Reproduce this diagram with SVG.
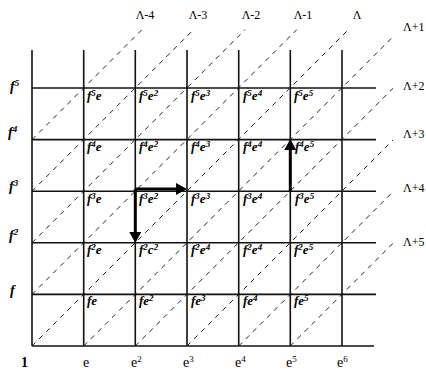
<svg xmlns="http://www.w3.org/2000/svg" width="426" height="371" viewBox="0 0 426 371">
<style>
.grid{stroke:#111;stroke-width:1.6;fill:none}
.diag{stroke:#222;stroke-width:1;stroke-dasharray:5 5;fill:none}
.arr{stroke:#000;stroke-width:3;fill:none}
text{font-family:"Liberation Serif","DejaVu Serif",serif;fill:#000}
.cl{font-size:13px;font-style:italic;font-weight:bold}
.ax{font-size:14px;font-style:italic;font-weight:bold}
.bx{font-size:14px}
.lam{font-family:"Liberation Sans","DejaVu Sans",sans-serif;font-size:12px}
.sup{font-size:9px}
</style>
<defs>
<marker id="ah" markerUnits="userSpaceOnUse" markerWidth="12" markerHeight="12" refX="2" refY="6" orient="auto">
<path d="M0,0 L11,6 L0,12 z" fill="#000"/>
</marker>
</defs>
<rect width="426" height="371" fill="#fff"/>
<g id="grid" class="grid">
<line x1="32" y1="50" x2="32" y2="346"/>
<line x1="83.7" y1="50" x2="83.7" y2="346"/>
<line x1="135.3" y1="50" x2="135.3" y2="346"/>
<line x1="187" y1="50" x2="187" y2="346"/>
<line x1="238.7" y1="50" x2="238.7" y2="346"/>
<line x1="290.3" y1="50" x2="290.3" y2="346"/>
<line x1="342" y1="50" x2="342" y2="346"/>
<line x1="32" y1="88" x2="376" y2="88"/>
<line x1="32" y1="139.6" x2="376" y2="139.6"/>
<line x1="32" y1="191.2" x2="376" y2="191.2"/>
<line x1="32" y1="242.8" x2="376" y2="242.8"/>
<line x1="32" y1="294.4" x2="376" y2="294.4"/>
<line x1="32" y1="346" x2="374" y2="346"/>
</g>
<g id="diagonals" class="diag">
<line x1="32" y1="139.6" x2="142" y2="29.6"/>
<line x1="32" y1="191.2" x2="193.6" y2="29.6"/>
<line x1="32" y1="242.8" x2="245.2" y2="29.6"/>
<line x1="32" y1="294.4" x2="296.8" y2="29.6"/>
<line x1="32" y1="346" x2="348.4" y2="29.6"/>
<line x1="83.7" y1="346" x2="393" y2="36.7"/>
<line x1="135.3" y1="346" x2="393" y2="88.3"/>
<line x1="187" y1="346" x2="393" y2="140"/>
<line x1="238.7" y1="346" x2="393" y2="191.7"/>
<line x1="290.3" y1="346" x2="393" y2="243.3"/>
</g>
<g id="connectors" class="arr">
<line x1="135.3" y1="189" x2="178" y2="189" marker-end="url(#ah)"/>
<line x1="135.3" y1="189" x2="135.3" y2="234" marker-end="url(#ah)"/>
<line x1="290.3" y1="191.2" x2="290.3" y2="148" marker-end="url(#ah)"/>
</g>
<g id="lambda-labels" class="lam">
<text x="145" y="19" text-anchor="middle">Λ-4</text>
<text x="198" y="19" text-anchor="middle">Λ-3</text>
<text x="251" y="19" text-anchor="middle">Λ-2</text>
<text x="303" y="19" text-anchor="middle">Λ-1</text>
<text x="357" y="19" text-anchor="middle">Λ</text>
<text x="403" y="31">Λ+1</text>
<text x="403" y="90">Λ+2</text>
<text x="403" y="138">Λ+3</text>
<text x="403" y="192">Λ+4</text>
<text x="403" y="246">Λ+5</text>
</g>
<g id="axis-labels">
<g class="ax">
<text x="10" y="91">f<tspan class="sup" dy="-5">5</tspan></text>
<text x="8" y="137">f<tspan class="sup" dy="-5">4</tspan></text>
<text x="9" y="191">f<tspan class="sup" dy="-5">3</tspan></text>
<text x="9" y="240">f<tspan class="sup" dy="-5">2</tspan></text>
<text x="10" y="295">f</text>
</g>
<g class="bx">
<text x="21" y="367" font-weight="bold">1</text>
<text x="83" y="367">e</text>
<text x="131" y="367">e<tspan class="sup" dy="-5">2</tspan></text>
<text x="183" y="367">e<tspan class="sup" dy="-5">3</tspan></text>
<text x="235" y="367">e<tspan class="sup" dy="-5">4</tspan></text>
<text x="286" y="367">e<tspan class="sup" dy="-5">5</tspan></text>
<text x="337" y="367">e<tspan class="sup" dy="-5">6</tspan></text>
</g>
</g>
<g class="cl">
<g id="n-f5e"><text x="87" y="100">f<tspan class="sup" dy="-4">5</tspan><tspan dy="4">e</tspan></text></g>
<g id="n-f5e2"><text x="139" y="100">f<tspan class="sup" dy="-4">5</tspan><tspan dy="4">e</tspan><tspan class="sup" dy="-4">2</tspan></text></g>
<g id="n-f5e3"><text x="191" y="100">f<tspan class="sup" dy="-4">5</tspan><tspan dy="4">e</tspan><tspan class="sup" dy="-4">3</tspan></text></g>
<g id="n-f5e4"><text x="243" y="100">f<tspan class="sup" dy="-4">5</tspan><tspan dy="4">e</tspan><tspan class="sup" dy="-4">4</tspan></text></g>
<g id="n-f5e5"><text x="294" y="100">f<tspan class="sup" dy="-4">5</tspan><tspan dy="4">e</tspan><tspan class="sup" dy="-4">5</tspan></text></g>

<g id="n-f4e"><text x="87" y="151">f<tspan class="sup" dy="-4">4</tspan><tspan dy="4">e</tspan></text></g>
<g id="n-f4e2"><text x="139" y="151">f<tspan class="sup" dy="-4">4</tspan><tspan dy="4">e</tspan><tspan class="sup" dy="-4">2</tspan></text></g>
<g id="n-f4e3"><text x="191" y="151">f<tspan class="sup" dy="-4">4</tspan><tspan dy="4">e</tspan><tspan class="sup" dy="-4">3</tspan></text></g>
<g id="n-f4e4"><text x="243" y="151">f<tspan class="sup" dy="-4">4</tspan><tspan dy="4">e</tspan><tspan class="sup" dy="-4">4</tspan></text></g>
<g id="n-f4e5"><text x="295" y="151">f<tspan class="sup" dy="-4">4</tspan><tspan dy="4">e</tspan><tspan class="sup" dy="-4">5</tspan></text></g>

<g id="n-f3e"><text x="87" y="203">f<tspan class="sup" dy="-4">3</tspan><tspan dy="4">e</tspan></text></g>
<g id="n-f3e2"><text x="139" y="203">f<tspan class="sup" dy="-4">3</tspan><tspan dy="4">e</tspan><tspan class="sup" dy="-4">2</tspan></text></g>
<g id="n-f3e3"><text x="191" y="203">f<tspan class="sup" dy="-4">3</tspan><tspan dy="4">e</tspan><tspan class="sup" dy="-4">3</tspan></text></g>
<g id="n-f3e4"><text x="243" y="203">f<tspan class="sup" dy="-4">3</tspan><tspan dy="4">e</tspan><tspan class="sup" dy="-4">4</tspan></text></g>
<g id="n-f3e5"><text x="295" y="203">f<tspan class="sup" dy="-4">3</tspan><tspan dy="4">e</tspan><tspan class="sup" dy="-4">5</tspan></text></g>

<g id="n-f2e"><text x="87" y="254">f<tspan class="sup" dy="-4">2</tspan><tspan dy="4">e</tspan></text></g>
<g id="n-f2e2"><text x="139" y="254">f<tspan class="sup" dy="-4">2</tspan><tspan dy="4">c</tspan><tspan class="sup" dy="-4">2</tspan></text></g>
<g id="n-f2e3"><text x="191" y="254">f<tspan class="sup" dy="-4">2</tspan><tspan dy="4">e</tspan><tspan class="sup" dy="-4">4</tspan></text></g>
<g id="n-f2e4"><text x="243" y="254">f<tspan class="sup" dy="-4">2</tspan><tspan dy="4">e</tspan><tspan class="sup" dy="-4">4</tspan></text></g>
<g id="n-f2e5"><text x="294" y="254">f<tspan class="sup" dy="-4">2</tspan><tspan dy="4">e</tspan><tspan class="sup" dy="-4">5</tspan></text></g>

<g id="n-fe"><text x="87" y="305">fe</text></g>
<g id="n-fe2"><text x="139" y="305">fe<tspan class="sup" dy="-4">2</tspan></text></g>
<g id="n-fe3"><text x="191" y="305">fe<tspan class="sup" dy="-4">3</tspan></text></g>
<g id="n-fe4"><text x="243" y="305">fe<tspan class="sup" dy="-4">4</tspan></text></g>
<g id="n-fe5"><text x="294" y="305">fe<tspan class="sup" dy="-4">5</tspan></text></g>
</g>
</svg>
